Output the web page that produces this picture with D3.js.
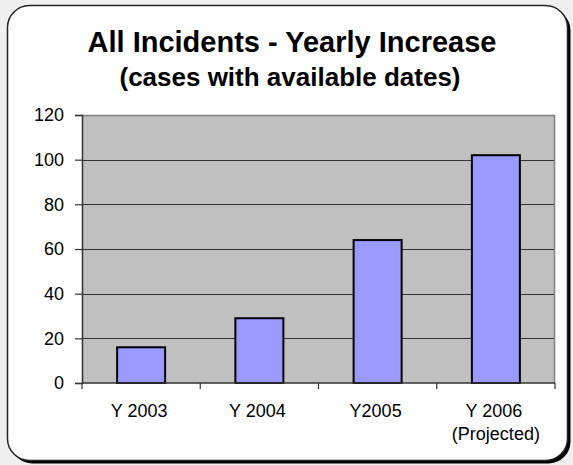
<!DOCTYPE html>
<html><head><meta charset="utf-8">
<script src="https://cdn.jsdelivr.net/npm/d3@7"></script>
<style>
html,body{margin:0;padding:0;background:#efefef;}
svg{display:block;}
text{font-family:Arial,"Liberation Sans",sans-serif;fill:#000;}
</style></head>
<body>
<svg id="c" width="573" height="465"></svg>
<script>
const titleLines = ["All Incidents - Yearly Increase", "(cases with available dates)"];
const categories = ["Y 2003", "Y 2004", "Y2005", "Y 2006"];
const categorySubLabels = ["", "", "", "(Projected)"];
const values = [16, 29, 64, 102];
const yTicks = [0, 20, 40, 60, 80, 100, 120];

const svg = d3.select("#c");
const plot = {left: 82, right: 555, top: 115, bottom: 383};

// frame with shadow
svg.append("rect").attr("x", 10.5).attr("y", 8.5).attr("width", 560).attr("height", 455)
  .attr("rx", 22).attr("ry", 22).attr("fill", "#000");
svg.append("rect").attr("x", 7.5).attr("y", 5.5).attr("width", 560).attr("height", 455)
  .attr("rx", 22).attr("ry", 22).attr("fill", "#fff").attr("stroke", "#222").attr("stroke-width", 1.5);

// titles
svg.append("text").attr("x", 292).attr("y", 52).attr("text-anchor", "middle")
  .style("font-size", "29px").style("font-weight", "bold").text(titleLines[0]);
svg.append("text").attr("x", 290).attr("y", 86).attr("text-anchor", "middle")
  .style("font-size", "26px").style("font-weight", "bold").text(titleLines[1]);

const x = d3.scaleBand().domain(categories).range([plot.left, plot.right])
  .paddingInner(0.594).paddingOuter(0.297);
const y = d3.scaleLinear().domain([0, 120]).range([plot.bottom, plot.top]);

// plot background
svg.append("rect").attr("x", plot.left).attr("y", plot.top)
  .attr("width", plot.right - plot.left).attr("height", plot.bottom - plot.top)
  .attr("fill", "#c0c0c0");

// gridlines
svg.append("g").selectAll("line").data(yTicks.filter(t => t > 0 && t < 120)).join("line")
  .attr("x1", plot.left).attr("x2", plot.right)
  .attr("y1", d => Math.round(y(d)) + 0.5).attr("y2", d => Math.round(y(d)) + 0.5)
  .attr("stroke", "#333").attr("stroke-width", 1);

// plot border top/right
svg.append("path")
  .attr("d", `M${plot.left},${plot.top + 0.5}H${plot.right - 0.5}V${plot.bottom}`)
  .attr("fill", "none").attr("stroke", "#808080").attr("stroke-width", 1.5);

// bars
svg.append("g").selectAll("rect").data(values).join("rect")
  .attr("x", (d, i) => x(categories[i]))
  .attr("y", d => y(d))
  .attr("width", x.bandwidth())
  .attr("height", d => y(0) - y(d))
  .attr("fill", "#9999ff").attr("stroke", "#000").attr("stroke-width", 2);

// y axis
const yAxis = d3.axisLeft(y).tickValues(yTicks).tickSize(7).tickPadding(11).tickFormat(d3.format("d"));
const gy = svg.append("g").attr("transform", `translate(${plot.left},0)`).call(yAxis);
gy.select(".domain").attr("stroke", "#333").attr("stroke-width", 1.5);
gy.selectAll(".tick line").attr("stroke", "#333").attr("stroke-width", 1.2);
gy.selectAll(".tick text").style("font-size", "18px").style("font-family", "Arial,'Liberation Sans',sans-serif").attr("fill", "#000");

// x axis: tick marks at category boundaries
const boundaries = [plot.left, ...categories.map(c => x(c) + x.bandwidth() / 2 + x.step() / 2)];
const gx = svg.append("g");
gx.append("line").attr("x1", plot.left).attr("x2", plot.right)
  .attr("y1", plot.bottom).attr("y2", plot.bottom).attr("stroke", "#333").attr("stroke-width", 1.5);
gx.selectAll("line.tk").data(boundaries).join("line").attr("class", "tk")
  .attr("x1", d => d).attr("x2", d => d).attr("y1", plot.bottom).attr("y2", plot.bottom + 6)
  .attr("stroke", "#333").attr("stroke-width", 1.2);
gx.selectAll("text.lab").data(categories).join("text").attr("class", "lab")
  .attr("x", d => x(d) + x.bandwidth() / 2 - 2).attr("y", 417)
  .attr("text-anchor", "middle").style("font-size", "18px").text(d => d);
gx.selectAll("text.sub").data(categories).join("text").attr("class", "sub")
  .attr("x", d => x(d) + x.bandwidth() / 2).attr("y", 440)
  .attr("text-anchor", "middle").style("font-size", "18px").text((d, i) => categorySubLabels[i]);
</script>
</body></html>
